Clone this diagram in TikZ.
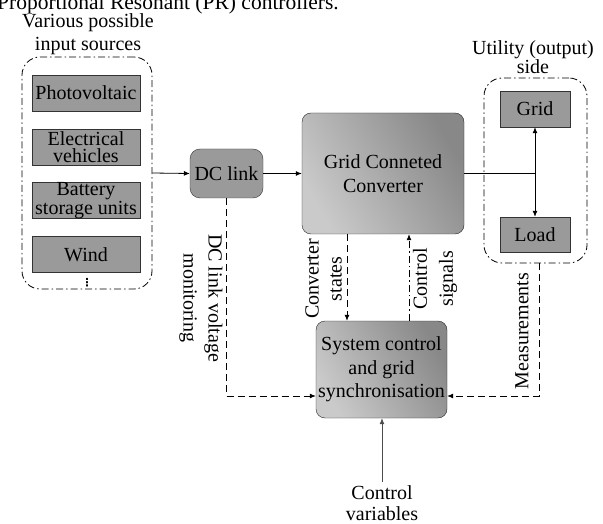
\documentclass[tikz,border=0pt]{standalone}
\usepackage{fontspec}
\setmainfont{Liberation Serif}
\newfontfamily\symfont{DejaVu Sans}
\usetikzlibrary{arrows.meta}
\definecolor{boxg}{HTML}{9A9A9A}
\definecolor{shl}{HTML}{CACACA}
\definecolor{shd}{HTML}{888888}
\begin{document}
\begin{tikzpicture}[x=1pt,y=-1pt,
  txt/.style={font=\fontsize{20}{23}\selectfont, align=center, inner sep=0pt},
  srcbox/.style={draw=black!80, fill=boxg, minimum width=108pt, minimum height=36pt, inner sep=0pt, font=\fontsize{20}{17}\selectfont, align=center},
  outbox/.style={draw=black!80, fill=boxg, minimum width=70pt, minimum height=36pt, inner sep=0pt, font=\fontsize{20}{23}\selectfont},
  dshdot/.style={dash pattern=on 7pt off 3pt on 1.5pt off 3pt},
  groupbox/.style={draw=black, line width=0.8pt, dshdot, rounded corners=18pt, inner sep=0pt},
  bigbox/.style={draw=black!85, rounded corners=9pt, left color=shl, right color=shd, shading angle=120, inner sep=0pt, font=\fontsize{20}{23.5}\selectfont, align=center},
  arr/.style={-{Latex[length=6pt,width=5pt]}, line width=0.8pt},
  dsh/.style={dash pattern=on 7pt off 4pt},
]
\useasboundingbox (0,0) rectangle (603,524);

% cut-off caption at the top
\node[anchor=base west, inner sep=0pt, font=\fontsize{21.5}{24}\selectfont] (cap) at (-3,10) {Proportional Resonant (PR) controllers.};

% input sources
\node[txt] (srct) at (88,34.5) {Various possible\\input sources};
\node[groupbox, minimum width=130pt, minimum height=232pt] (grp) at (87,173) {};
\node[srcbox] (pv) at (86,93) {Photovoltaic};
\node[srcbox] (ev) at (86,147) {Electrical\\vehicles};
\node[srcbox] (bat) at (86,200.5) {Battery\\storage units};
\node[srcbox] (wind) at (86,254.5) {Wind};
\node[inner sep=0pt, font=\symfont\bfseries\fontsize{11}{11}\selectfont] (dots) at (87,282.5) {⋮};

% DC link
\node[draw=black!80, fill=boxg, rounded corners=10pt, minimum width=73pt, minimum height=49pt, inner sep=0pt, font=\fontsize{20}{23}\selectfont] (dc) at (226.5,173.5) {DC link};

% converter
\node[bigbox, minimum width=162pt, minimum height=121pt] (gcc) at (383,173.5) {Grid Conneted\\Converter};

% output side
\node[txt, font=\fontsize{20}{19.5}\selectfont] (utl) at (533,57) {Utility (output)\\side};
\node[groupbox, minimum width=103pt, minimum height=185pt] (rgrp) at (535.5,170.5) {};
\node[outbox] (grid) at (535,109) {Grid};
\node[outbox, minimum height=35pt] (load) at (535,234.5) {Load};

% system control
\node[bigbox, minimum width=131pt, minimum height=97pt] (sys) at (381.5,369.5) {System control\\and grid\\synchronisation};

% control variables
\node[txt, inner sep=3pt, font=\fontsize{20}{21}\selectfont] (cv) at (382,503) {Control\\variables};

% connectors
\coordinate (j) at (535,173.5);
\coordinate (csx) at (347,0);
\coordinate (sgx) at (409,0);
\coordinate (mx) at (539,0);
\coordinate (lv) at (0,396);

\draw[arr] (grp.east) -- (dc.west);
\draw[arr] (dc.east) -- (gcc.west);
\draw[line width=0.8pt] (gcc.east) -- (j);
\draw[arr] (j) -- (grid.south);
\draw[arr] (j) -- (load.north);
\draw[arr, dsh] (csx |- gcc.south) -- (csx |- sys.north);
\draw[arr, dshdot] (sgx |- sys.north) -- (sgx |- gcc.south);
\draw[arr, dsh] (dc.south) |- (lv -| sys.west);
\draw[arr, dsh] (mx |- rgrp.south) |- (lv -| sys.east);
\draw[arr, black!70] (cv.north) -- (cv.north |- sys.south);

% rotated labels
\node[txt, rotate=-90, font=\fontsize{20}{25}\selectfont] (dcl) at (201,298) {DC link voltage\\monitoring};
\node[txt, rotate=90] (cst) at (323.5,279) {Converter\\states};
\node[txt, rotate=90, font=\fontsize{20}{26}\selectfont] (csl) at (435,279) {Control\\signals};
\node[txt, rotate=90] (meas) at (522,331) {Measurements};
\end{tikzpicture}
\end{document}
